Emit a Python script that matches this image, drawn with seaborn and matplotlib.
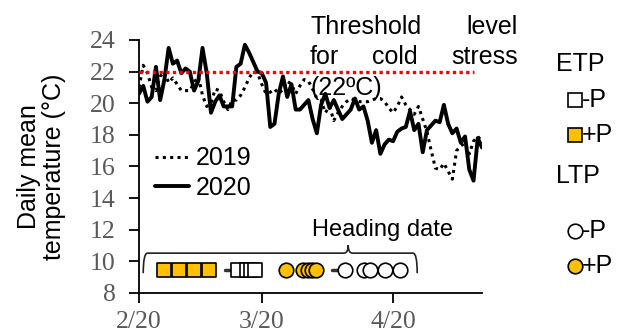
import matplotlib
matplotlib.use('Agg')
import matplotlib.pyplot as plt
from matplotlib.lines import Line2D
from matplotlib.path import Path
from matplotlib.patches import PathPatch
import seaborn as sns
import pandas as pd

sns.set_theme(style='ticks')
plt.rcParams['font.family'] = ['Liberation Sans', 'DejaVu Sans']
plt.rcParams['text.color'] = 'black'
plt.rcParams['axes.labelcolor'] = 'black'

# daily mean temperature, one value per day starting at 2/20
temp_2019 = [21.0, 22.4, 21.9, 21.0, 20.8, 21.7, 22.0, 21.3, 21.6, 21.2,
             20.8, 20.8, 20.8, 21.3, 21.7, 20.5, 19.8, 20.0, 20.9, 20.8,
             20.1, 19.6, 20.2, 20.2, 20.5, 21.0, 21.6, 22.0, 21.9, 21.2,
             20.6, 20.7, 20.9, 20.6, 20.9, 21.4, 21.2, 20.6, 21.1, 21.5,
             21.4, 20.9, 20.3, 20.2, 19.4, 19.8, 18.9, 19.4, 19.8, 20.1,
             20.3, 20.2, 20.1, 20.1, 20.1, 20.2, 20.3, 20.3, 20.1, 19.7,
             19.4, 19.8, 20.4, 19.9, 19.6, 19.3, 19.8, 19.0, 18.2, 17.0,
             15.9, 15.8, 16.2, 15.7, 15.2, 17.0, 17.3, 17.5, 16.8, 17.6,
             17.9, 17.6]
temp_2020 = [20.6, 21.1, 20.1, 20.4, 22.3, 20.2, 21.5, 23.5, 22.5, 22.7,
             21.9, 22.2, 22.0, 20.8, 21.4, 23.5, 21.9, 19.4, 20.1, 20.5,
             19.8, 19.8, 19.8, 22.3, 22.5, 23.7, 23.2, 22.6, 22.0, 21.9,
             21.3, 18.5, 18.7, 20.6, 21.7, 20.4, 21.2, 19.6, 19.6, 19.9,
             20.2, 19.0, 18.1, 19.9, 20.6, 19.7, 20.2, 19.6, 19.0, 19.3,
             19.6, 20.3, 19.6, 19.8, 18.9, 17.5, 18.3, 16.8, 17.4, 17.7,
             17.6, 18.2, 18.4, 18.5, 19.5, 18.3, 18.7, 16.9, 18.3, 18.6,
             18.9, 18.8, 19.9, 18.7, 18.1, 18.4, 17.5, 17.9, 15.8, 15.1,
             17.8, 17.2]
days = list(range(len(temp_2020)))

threshold = 22
threshold_days = [0, 79]

tick_days = [0, 29, 60]
tick_labels = ['2/20', '3/20', '4/20']
y_ticks = [8, 10, 12, 14, 16, 18, 20, 22, 24]

# heading dates (days after 2/20)
etp_plus = [5.8, 9.5, 13.0, 16.6]
etp_minus = [23.4, 25.5, 26.5, 27.4]
ltp_plus = [34.6, 38.7, 39.9, 40.8, 41.7]
ltp_minus = [48.6, 53.1, 54.6, 58.1, 61.6]
etp_minus_bar = [20.3, 23.4]
ltp_minus_bar = [45.6, 48.6]
heading_y = 9.45

GOLD = '#FFC000'
FS = 18

df = pd.DataFrame({'day': days + days,
                   'temp': temp_2019 + temp_2020,
                   'year': ['2019'] * len(days) + ['2020'] * len(days)})

fig = plt.figure(figsize=(6.25, 3.35), dpi=100)
ax = fig.add_axes([0.2224, 0.1254, 0.5488, 0.7552])

sns.lineplot(data=df[df.year == '2019'], x='day', y='temp', ax=ax, color='black',
             linewidth=2.2, linestyle=(0, (1, 1.4)))
sns.lineplot(data=df[df.year == '2020'], x='day', y='temp', ax=ax, color='black',
             linewidth=2.8)
ax.plot(threshold_days, [threshold, threshold], color='red', linewidth=2.4,
        linestyle=(0, (1, 1)), zorder=4)

# heading date markers
ax.plot(etp_minus_bar, [heading_y] * 2, color='#333333', lw=2.5, zorder=2)
ax.plot(ltp_minus_bar, [heading_y] * 2, color='#333333', lw=2.5, zorder=2)
for xs, mk, fc in [(etp_plus, 's', GOLD), (etp_minus, 's', 'white'),
                   (ltp_plus, 'o', GOLD), (ltp_minus, 'o', 'white')]:
    sns.scatterplot(x=xs, y=[heading_y] * len(xs), marker=mk, s=110, color=fc,
                    edgecolor='black', linewidth=1.2, ax=ax, zorder=3, legend=False)

# brace over heading dates
bl, bm, br = 1.0, 49.4, 65.7
yb, yt, yp = 9.25, 10.52, 11.03
verts = [(bl, yb), (bl, yt), (bl + 1.0, yt), (bm - 1.0, yt), (bm, yt), (bm, yp),
         (bm, yt), (bm + 1.0, yt), (br - 1.0, yt), (br, yt), (br, yb)]
codes = [Path.MOVETO, Path.CURVE3, Path.CURVE3, Path.LINETO, Path.CURVE3, Path.CURVE3,
         Path.CURVE3, Path.CURVE3, Path.LINETO, Path.CURVE3, Path.CURVE3]
ax.add_patch(PathPatch(Path(verts, codes), fill=False, edgecolor='#222222', lw=1.2,
                       clip_on=False))
ax.text(40.9, 11.98, 'Heading date', fontsize=17, va='center', ha='left')

# threshold annotation
ax.text(40.4, 24.85, 'Threshold', fontsize=FS, va='center', ha='left', clip_on=False)
ax.text(89.5, 24.85, 'level', fontsize=FS, va='center', ha='right', clip_on=False)
ax.text(40.4, 22.95, 'for', fontsize=FS, va='center', ha='left', clip_on=False)
ax.text(60.4, 22.95, 'cold', fontsize=FS, va='center', ha='center', clip_on=False)
ax.text(89.5, 22.95, 'stress', fontsize=FS, va='center', ha='right', clip_on=False)
ax.text(40.4, 20.96, '(22ºC)', fontsize=FS, va='center', ha='left', clip_on=False)

# year legend
handles = [Line2D([], [], color='black', lw=2.2, linestyle=(0, (1, 1.4))),
           Line2D([], [], color='black', lw=2.8)]
ax.legend(handles, ['2019', '2020'], loc='center left', bbox_to_anchor=(0.048, 0.474),
          frameon=False, fontsize=FS, handlelength=1.35, handletextpad=0.25,
          labelspacing=0.22, borderpad=0, borderaxespad=0, labelcolor='black')

ax.set_xlim(0, 81)
ax.set_ylim(8, 24)
ax.set_xticks(tick_days)
ax.set_xticklabels(tick_labels)
ax.set_yticks(y_ticks)
ax.set_xlabel('')
ax.set_ylabel('Daily mean\ntemperature (°C)', fontsize=FS, linespacing=1.05)
ax.yaxis.set_label_coords(-0.213, 0.5)
sns.despine(ax=ax)
for s in ['left', 'bottom']:
    ax.spines[s].set_color('black')
    ax.spines[s].set_linewidth(1.3)
ax.tick_params(axis='y', direction='out', length=7, width=1.3, color='black', pad=10)
ax.tick_params(axis='x', direction='out', length=7, width=1.3, color='black', pad=6)
for lab in ax.get_xticklabels() + ax.get_yticklabels():
    lab.set_fontfamily('Liberation Serif')
    lab.set_fontsize(18.5)
    lab.set_color('#595959')

# ETP / LTP key on the right
W, H = 625, 335
def fx(px):
    return px / W
def fy(py):
    return 1 - py / H

fig.text(fx(556), fy(64), 'ETP', fontsize=FS, va='center', ha='left')
fig.text(fx(556), fy(176), 'LTP', fontsize=FS, va='center', ha='left')
key_rows = [(100, 's', 'white', '-P'), (135, 's', GOLD, '+P'),
            (231, 'o', 'white', '-P'), (266, 'o', GOLD, '+P')]
for py, mk, fc, lab in key_rows:
    fig.add_artist(Line2D([fx(575)], [fy(py)], marker=mk, markersize=10.5,
                          markerfacecolor=fc, markeredgecolor='black',
                          markeredgewidth=1.2, linestyle='none'))
    fig.text(fx(582), fy(py), lab, fontsize=FS, va='center', ha='left')

fig.savefig('out.png', dpi=100)
